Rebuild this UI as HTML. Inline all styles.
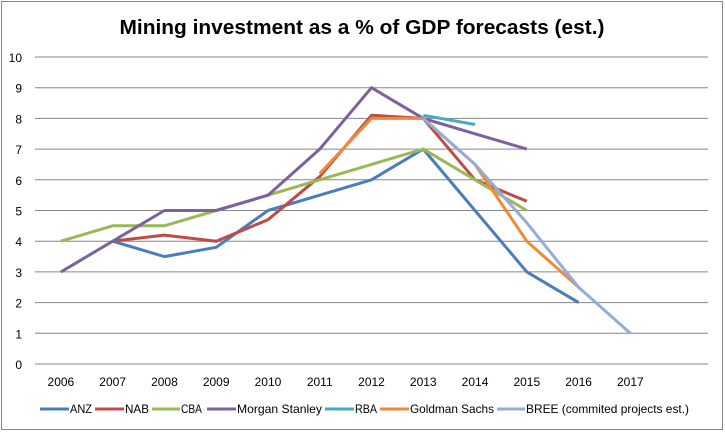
<!DOCTYPE html>
<html><head><meta charset="utf-8">
<style>
body{margin:0;background:#fff;}
svg{display:block;font-family:"Liberation Sans",Arial,sans-serif;}
</style></head>
<body>
<svg id="chart" width="725" height="432" viewBox="0 0 725 432">
<rect x="1.5" y="1.5" width="721" height="428" fill="#fff" stroke="#888" stroke-width="1"/>
<text x="362" y="34" text-anchor="middle" font-size="20" font-weight="bold" fill="#000" textLength="485" lengthAdjust="spacingAndGlyphs">Mining investment as a % of GDP forecasts (est.)</text>
<g id="grid"></g>
<g id="series"></g>
<g id="legend"></g>
</svg>
<script>
const categories=["2006","2007","2008","2009","2010","2011","2012","2013","2014","2015","2016","2017"];
const yTicks=[0,1,2,3,4,5,6,7,8,9,10];
const seriesNames=["ANZ","NAB","CBA","Morgan Stanley","RBA","Goldman Sachs","BREE (commited projects est.)"];
const anz=[null,4,3.5,3.8,5,5.5,6,7,5,3,2,null];
const nab=[null,4,4.2,4,4.7,6.1,8.1,8,6,5.3,null,null];
const cba=[4,4.5,4.5,5,5.5,6,6.5,7,6,5,null,null];
const ms=[3,4,5,5,5.5,7,9,8,7.5,7,null,null];
const rba=[null,null,null,null,null,null,null,8.1,7.8,null,null,null];
const gs=[null,null,null,null,null,6.2,8,8,6.5,4,2.5,null];
const bree=[null,null,null,null,null,null,null,8,6.5,4.6,2.5,1];
const colors=["#4a7ebb","#be4b48","#98b954","#7d60a0","#46aac5","#f08a34","#94acd6"];
const allSeries=[anz,nab,cba,ms,rba,gs,bree];
const NS="http://www.w3.org/2000/svg";
const L=35,R=708,T=57,B=364,band=(R-L)/13;
const xs=i=>L+band*(i+0.5);
const ys=v=>B-(B-T)*v/10;
const grid=document.getElementById('grid');
function mk(tag,attrs,parent){const e=document.createElementNS(NS,tag);for(const k in attrs)e.setAttribute(k,attrs[k]);parent.appendChild(e);return e;}
yTicks.forEach(v=>{
 const l=mk('line',{x1:L,x2:R,y1:ys(v),y2:ys(v),stroke:'#868686','stroke-width':1},grid);
 
 
 const t=mk('text',{x:22,y:ys(v)+5,'text-anchor':'end','font-size':12,fill:'#000'},grid);
 t.textContent=v;
 
 
});
categories.forEach((c,i)=>{
 const t=mk('text',{x:xs(i),y:386,'text-anchor':'middle','font-size':12,fill:'#000'},grid);
 t.textContent=c;
 
 
});
const sg=document.getElementById('series');
allSeries.forEach((s,k)=>{
 let d='';let started=false;
 s.forEach((v,i)=>{if(v===null){started=false;return;}d+=(started?'L':'M')+xs(i).toFixed(1)+' '+ys(v).toFixed(1)+' ';started=true;});
 const p=mk('path',{d:d,fill:'none',stroke:colors[k],'stroke-width':3,'stroke-linejoin':'round'},sg);
 
 
});
const lg=document.getElementById('legend');
const lx=[40,95,152,207,325,380,497];
const tx=[70,125,181,237,355,410,526];
const tw=[22,24,21,85,22,84,163];
seriesNames.forEach((n,k)=>{
 const g=mk('g',{},lg);
 
 
 mk('line',{x1:lx[k],x2:tx[k]-1,y1:409,y2:409,stroke:colors[k],'stroke-width':3},g);
 const t=mk('text',{x:tx[k],y:413,'font-size':12,fill:'#000',textLength:tw[k],lengthAdjust:'spacingAndGlyphs'},g);
 t.textContent=n;
});
</script>
</body></html>
